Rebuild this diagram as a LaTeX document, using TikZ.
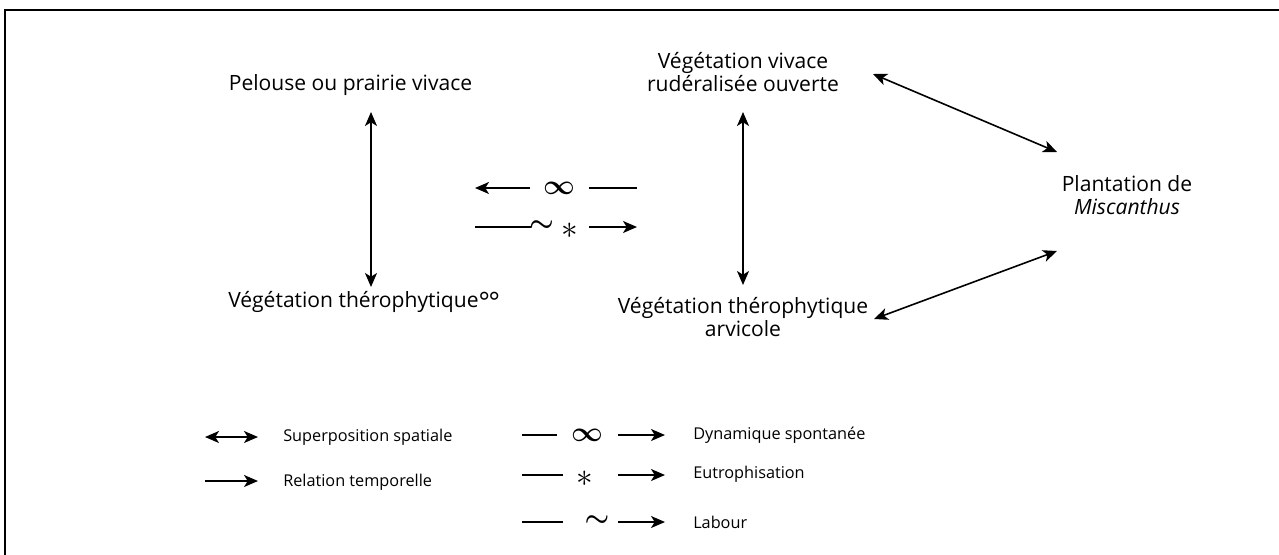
\documentclass[tikz,border=0pt]{standalone}
\usepackage{fontspec}
\setmainfont{Open Sans}
\usetikzlibrary{arrows.meta}
\begin{document}
\begin{tikzpicture}[x=0.75pt,y=-0.75pt,
  lbl/.style={font=\fontsize{15.8}{17.3}\selectfont, inner sep=0pt, align=center},
  leg/.style={font=\fontsize{12.2}{14}\selectfont, inner sep=0pt, anchor=west},
  tip/.tip={Stealth[length=10.5pt,width=9pt,inset=2.8pt]},
  arr/.style={line width=1.2pt, -tip},
  darr/.style={line width=1.2pt, tip-tip},
  seg/.style={line width=1.2pt},
  sym/.style={inner sep=0pt, font=\fontsize{20}{20}\selectfont\boldmath},
  ast/.style={inner sep=0pt, font=\fontsize{30}{30}\selectfont}]
\useasboundingbox (0,0) rectangle (1279,554);
% frame
\draw[line width=1.6pt] (5,600) -- (5,10) -- (1300,10);

% main nodes
\node[lbl] (pel) at (350.5,85) {Pelouse ou prairie vivace};
\node[lbl, anchor=west] (vth) at (228,302) {Végétation thérophytique\raisebox{-0.35ex}{\fontsize{20}{20}\selectfont°\kern-0.05em°}};
\node[lbl] (vvr) at (743,72) {Végétation vivace\\rudéralisée ouverte};
\node[lbl] (vta) at (743,317) {Végétation thérophytique\\arvicole};
\node[lbl] (plm) at (1127,195) {Plantation de\\\textit{Miscanthus}};

% arrow end coordinates
\coordinate (a1) at (371,112); \coordinate (a2) at (371,287);
\coordinate (b1) at (743,112); \coordinate (b2) at (743,285);
\coordinate (c1) at (873,74); \coordinate (c2) at (1057,152);
\coordinate (d1) at (874,319); \coordinate (d2) at (1057,251);

\draw[darr] (a1) -- (a2);
\draw[darr] (b1) -- (b2);
\draw[darr] (c1) -- (c2);
\draw[darr] (d1) -- (d2);

% middle transition arrows
\node[sym] (inf1) at (559,188) {$\infty$};
\coordinate (m1a) at (530,188); \coordinate (m1b) at (475,188);
\coordinate (m1c) at (589,188); \coordinate (m1d) at (637,188);
\draw[arr] (m1a) -- (m1b);
\draw[seg] (m1c) -- (m1d);

\node[sym] (til1) at (541.5,226) {$\sim$};
\node[ast] (ast1) at (570,231) {$\ast$};
\coordinate (m2a) at (475,227); \coordinate (m2b) at (531,227);
\coordinate (m2c) at (589,227); \coordinate (m2d) at (637,227);
\draw[seg] (m2a) -- (m2b);
\draw[arr] (m2c) -- (m2d);

% legend left
\coordinate (l1a) at (205,437); \coordinate (l1b) at (258,437);
\draw[darr] (l1a) -- (l1b);
\node[leg] (l1t) at (283,437) {Superposition spatiale};
\coordinate (l2a) at (205,481); \coordinate (l2b) at (258,481);
\draw[arr] (l2a) -- (l2b);
\node[leg] (l2t) at (283,482) {Relation temporelle};

% legend right
\coordinate (r1a) at (522,435); \coordinate (r1b) at (557,435);
\node[sym] (inf2) at (587,435) {$\infty$};
\coordinate (r1c) at (618,435); \coordinate (r1d) at (665,435);
\draw[seg] (r1a) -- (r1b);
\draw[arr] (r1c) -- (r1d);
\node[leg] (r1t) at (693,435) {Dynamique spontanée};

\coordinate (r2a) at (522,475); \coordinate (r2b) at (563,475);
\node[ast] (ast2) at (585,479) {$\ast$};
\coordinate (r2c) at (618,475); \coordinate (r2d) at (665,475);
\draw[seg] (r2a) -- (r2b);
\draw[arr] (r2c) -- (r2d);
\node[leg] (r2t) at (693,474) {Eutrophisation};

\coordinate (r3a) at (522,522); \coordinate (r3b) at (563,522);
\node[sym] (til2) at (597,521) {$\sim$};
\coordinate (r3c) at (618,522); \coordinate (r3d) at (665,522);
\draw[seg] (r3a) -- (r3b);
\draw[arr] (r3c) -- (r3d);
\node[leg] (r3t) at (693,522) {Labour};
\end{tikzpicture}
\end{document}
